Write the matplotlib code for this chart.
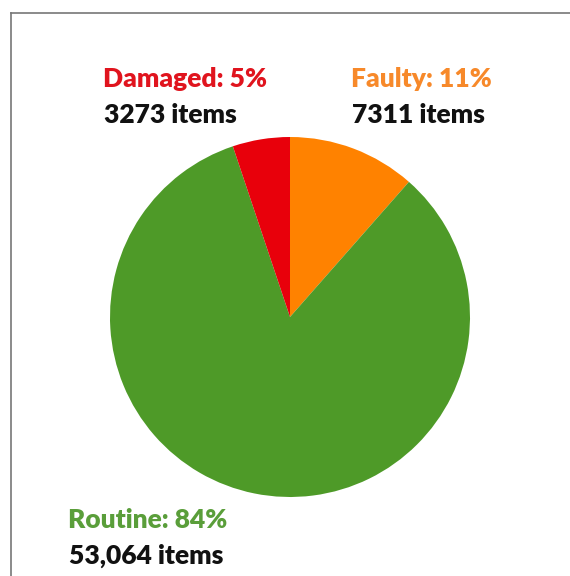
import matplotlib
matplotlib.use('Agg')
import matplotlib.pyplot as plt
from matplotlib.lines import Line2D

# item counts per condition, clockwise from 12 o'clock
categories = ['Faulty', 'Routine', 'Damaged']
counts = [7311, 53064, 3273]
percent_labels = ['11%', '84%', '5%']
count_labels = ['7311 items', '53,064 items', '3273 items']

slice_colors = ['#FF8200', '#4E9A28', '#E8000B']
text_colors = ['#F7892A', '#5A9E3A', '#E0141E']

plt.rcParams['font.family'] = ['Lato', 'DejaVu Sans']

W, H = 570, 576
fig = plt.figure(figsize=(W / 100, H / 100), dpi=100)

ax = fig.add_axes([110 / W, 1 - 497 / H, 360 / W, 360 / H])
ax.pie(counts, colors=slice_colors, startangle=90, counterclock=False,
       wedgeprops=dict(linewidth=0))
ax.set_xlim(-1, 1)
ax.set_ylim(-1, 1)
ax.set_aspect('equal')

# thin frame along the top and left
fig.add_artist(Line2D([11 / W, 1], [1 - 13 / H, 1 - 13 / H], color='#777777', lw=1.2))
fig.add_artist(Line2D([11 / W, 11 / W], [1 - 13 / H, 0], color='#777777', lw=1.2))

# label positions in pixels (left x, centre y of first line)
label_pos = {'Faulty': (351, 79), 'Routine': (68, 520), 'Damaged': (103, 79)}
fs = 19
for cat, pct, cnt, tc in zip(categories, percent_labels, count_labels, text_colors):
    x, y = label_pos[cat]
    fig.text(x / W, 1 - y / H, f'{cat}: {pct}', color=tc, fontsize=fs,
             fontweight='heavy', ha='left', va='center')
    fig.text((x + 1) / W, 1 - (y + 36) / H, cnt, color='#111111', fontsize=fs,
             fontweight='heavy', ha='left', va='center')

fig.savefig('out.png', dpi=100)
